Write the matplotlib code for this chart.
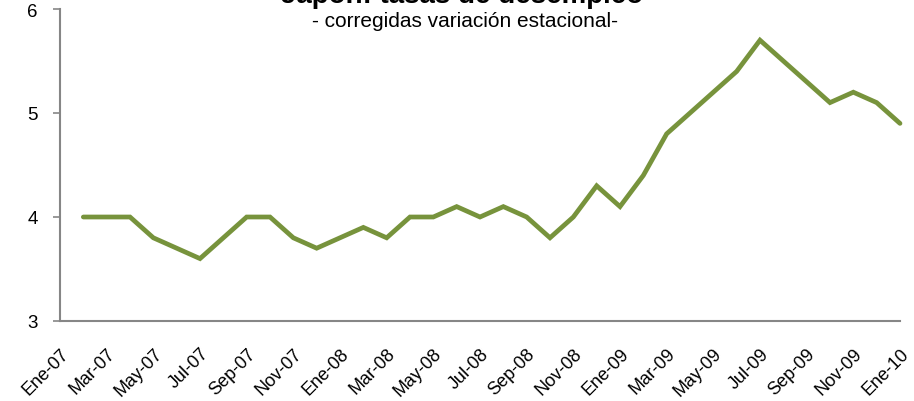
import matplotlib.pyplot as plt

plt.rcParams['font.family'] = ['Liberation Sans', 'DejaVu Sans']

# Japan unemployment rate, seasonally adjusted (monthly, Feb-07 .. Ene-10)
months = list(range(1, 37))
rate = [4.0, 4.0, 4.0, 3.8, 3.7, 3.6, 3.8, 4.0, 4.0, 3.8, 3.7, 3.8,
        3.9, 3.8, 4.0, 4.0, 4.1, 4.0, 4.1, 4.0, 3.8, 4.0, 4.3, 4.1,
        4.4, 4.8, 5.0, 5.2, 5.4, 5.7, 5.5, 5.3, 5.1, 5.2, 5.1, 4.9]

tick_pos = list(range(0, 37, 2))
tick_labels = ['Ene-07', 'Mar-07', 'May-07', 'Jul-07', 'Sep-07', 'Nov-07',
               'Ene-08', 'Mar-08', 'May-08', 'Jul-08', 'Sep-08', 'Nov-08',
               'Ene-09', 'Mar-09', 'May-09', 'Jul-09', 'Sep-09', 'Nov-09',
               'Ene-10']

fig = plt.figure(figsize=(9.14, 4.02), dpi=100)
ax = fig.add_axes([60 / 914, 80 / 402, 840 / 914, 312 / 402])

ax.plot(months, rate, color='#77933C', linewidth=3.4, solid_capstyle='round',
        solid_joinstyle='miter', clip_on=False)

ax.set_xlim(0, 36)
ax.set_ylim(3, 6)
ax.set_yticks([3, 4, 5, 6])
ax.set_xticks(tick_pos)
ax.set_xticklabels(tick_labels, rotation=45, ha='right', rotation_mode='anchor')

for s in ['top', 'right']:
    ax.spines[s].set_visible(False)
for s in ['left', 'bottom']:
    ax.spines[s].set_color('#868686')
    ax.spines[s].set_linewidth(1.5)

ax.tick_params(axis='y', length=5, width=1.2, color='#868686', labelsize=13.5, pad=11)
ax.tick_params(axis='x', length=0, labelsize=13, pad=17)

fig.text(0.506, 1 - 3 / 402, 'Japón: tasas de desempleo', ha='center', va='baseline',
         fontsize=20, fontweight='bold')
fig.text(0.509, 1 - 27 / 402, '- corregidas variación estacional-', ha='center',
         va='baseline', fontsize=15)

fig.savefig('out.png', dpi=100)
